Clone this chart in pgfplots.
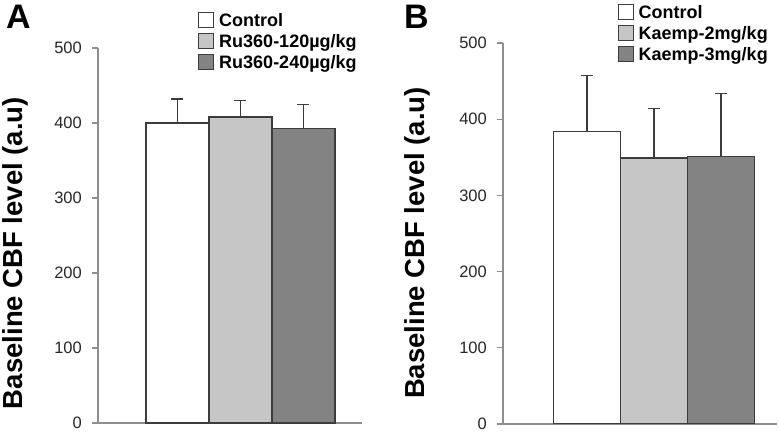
\documentclass[border=0pt]{standalone}
\usepackage{fontspec}
\setmainfont{Liberation Sans}
\usepackage{pgfplots}
\pgfplotsset{compat=1.18}
\definecolor{barlight}{HTML}{C6C6C6}
\definecolor{bardark}{HTML}{838383}
\definecolor{edgec}{HTML}{3C3C3C}
\definecolor{axisc}{HTML}{8E8E8E}
\pgfplotsset{
  ebar/.style={error bars/.cd, y dir=plus, y explicit,
      error bar style={edgec, line width=1.3pt},
      error mark options={rotate=90, mark size=6pt, edgec, line width=1.3pt}},
  panel/.style={
    scale only axis,
    ymin=0, ymax=500,
    ytick={0,100,200,300,400,500},
    xtick=\empty,
    axis x line*=bottom,
    axis y line*=left,
    axis line style={axisc, line width=1.2pt, -},
    y tick style={axisc, line width=1.2pt},
    tick align=outside,
    major tick length=6pt,
    /pgf/number format/assume math mode=true,
    yticklabel style={font=\fontsize{16.5}{18}\selectfont, inner sep=0pt, xshift=-10pt, color=black!85},
    ylabel={Baseline CBF level (a.u)},
    ylabel style={font=\bfseries\fontsize{27.5}{30}\selectfont, anchor=center, inner sep=0pt},
    ybar, bar shift=0pt,
    legend cell align=left,
    legend style={draw=none, fill=none, font=\bfseries\fontsize{18}{20}\selectfont,
      anchor=north west, inner sep=0pt, row sep=2.5pt,
      /tikz/every odd column/.append style={column sep=3pt}},
    legend image code/.code={\draw[#1, line width=1pt] (0pt,-7pt) rectangle (15pt,8pt);},
    every axis plot/.append style={draw=edgec, line width=1.3pt},
  }
}
\begin{document}
\begin{tikzpicture}
\useasboundingbox (0pt,0pt) rectangle (779pt,436pt);
% Panel A
\begin{axis}[panel,
  at={(98pt,13pt)}, anchor=left of origin,
  width=264pt, height=375pt,
  xmin=-1.262, xmax=2.929,
  bar width=63pt,
  ylabel style={at={(axis description cs:-0.312,0.453)}},
  legend style={at={(axis description cs:0.379,1.099)}},
]
\addplot[fill=white, ebar] coordinates {(0,400) +- (0,32)};
\addplot[fill=barlight, ebar] coordinates {(1,408) +- (0,22)};
\addplot[fill=bardark, ebar] coordinates {(2,393) +- (0,32)};
\legend{Control, Ru360-120µg/kg, Ru360-240µg/kg}
\end{axis}
\node[font=\bfseries\fontsize{34}{36}\selectfont, anchor=north west, inner sep=0pt] at (6pt,431pt) {A};
% Panel B
\begin{axis}[panel,
  at={(503pt,12pt)}, anchor=left of origin,
  width=274pt, height=381pt,
  xmin=-1.254, xmax=2.836,
  bar width=67pt,
  ylabel style={at={(axis description cs:-0.312,0.475)}},
  legend style={at={(axis description cs:0.418,1.105)}},
]
\addplot[fill=white, ebar] coordinates {(0,384) +- (0,73)};
\addplot[fill=barlight, ebar] coordinates {(1,349) +- (0,65)};
\addplot[fill=bardark, ebar] coordinates {(2,351) +- (0,83)};
\legend{Control, Kaemp-2mg/kg, Kaemp-3mg/kg}
\end{axis}
\node[font=\bfseries\fontsize{34}{36}\selectfont, anchor=north west, inner sep=0pt] at (404pt,431pt) {B};
\end{tikzpicture}
\end{document}
